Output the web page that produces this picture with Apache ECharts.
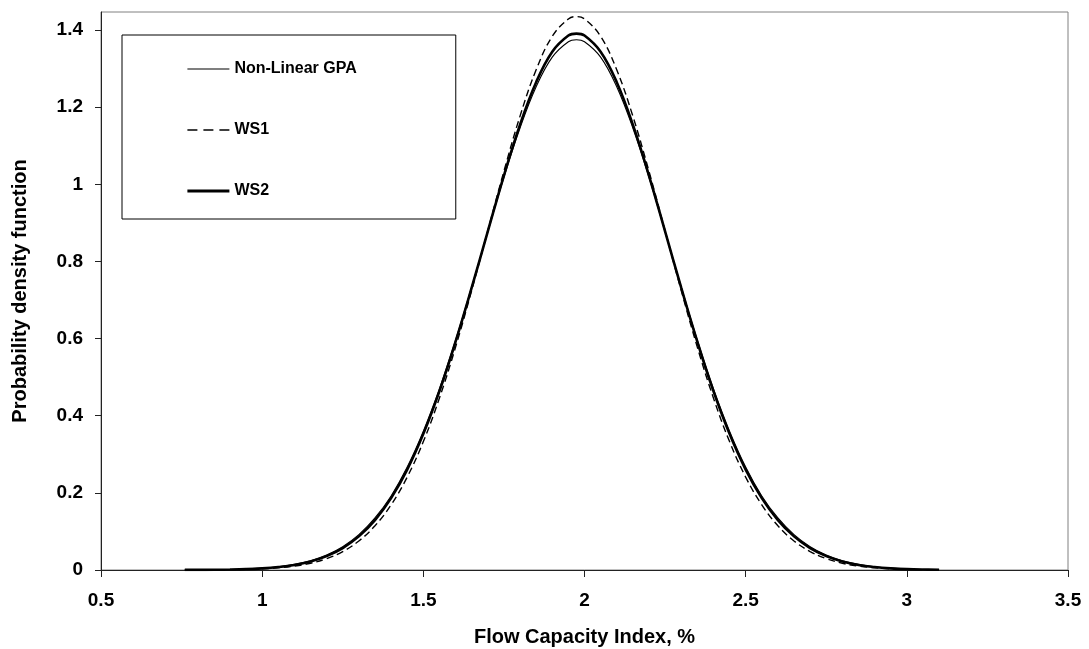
<!DOCTYPE html>
<html>
<head>
<meta charset="utf-8">
<script src="https://cdn.jsdelivr.net/npm/echarts@6/dist/echarts.min.js"></script>
<style>
  html, body { margin: 0; padding: 0; background: #fff; }
  #chart { width: 1089px; height: 649px; }
</style>
</head>
<body>
<div id="chart"></div>
<script>
// Flow capacity index sample points (%)
const xs = [0.76, 0.80, 0.85, 0.90, 0.95, 1.00, 1.05, 1.10, 1.15, 1.20, 1.25, 1.30, 1.35, 1.40,
            1.45, 1.50, 1.55, 1.60, 1.65, 1.70, 1.75, 1.80, 1.85, 1.90, 1.95, 1.975, 2.00, 2.05,
            2.10, 2.15, 2.20, 2.25, 2.30, 2.35, 2.40, 2.45, 2.50, 2.55, 2.60, 2.65, 2.70, 2.75,
            2.80, 2.85, 2.90, 2.95, 3.00, 3.05, 3.10];

// Probability density for each method
const gpa = [0.0002, 0.0004, 0.0007, 0.0014, 0.0027, 0.0048, 0.0085, 0.0145, 0.024, 0.0387, 0.0604, 0.0916, 0.135, 0.192,
             0.267, 0.360, 0.470, 0.596, 0.734, 0.877, 1.018, 1.146, 1.253, 1.330, 1.370, 1.375, 1.370, 1.330,
             1.253, 1.146, 1.018, 0.877, 0.734, 0.596, 0.470, 0.360, 0.267, 0.192, 0.135, 0.0916, 0.0604, 0.0387,
             0.024, 0.0145, 0.0085, 0.0048, 0.0027, 0.0014, 0.0007];
const ws1 = [0.0001, 0.0002, 0.0004, 0.0008, 0.0016, 0.0031, 0.0057, 0.0101, 0.0176, 0.0294, 0.0478, 0.0753, 0.1146, 0.169,
             0.241, 0.333, 0.446, 0.578, 0.725, 0.880, 1.034, 1.177, 1.297, 1.384, 1.429, 1.435, 1.429, 1.384,
             1.297, 1.177, 1.034, 0.880, 0.725, 0.578, 0.446, 0.333, 0.241, 0.169, 0.1146, 0.0753, 0.0478, 0.0294,
             0.0176, 0.0101, 0.0057, 0.0031, 0.0016, 0.0008, 0.0004];
const ws2 = [0.0002, 0.0003, 0.0006, 0.0012, 0.0023, 0.0043, 0.0077, 0.0132, 0.0222, 0.0361, 0.0570, 0.0872, 0.1294, 0.1864,
             0.2603, 0.353, 0.464, 0.592, 0.732, 0.878, 1.023, 1.155, 1.265, 1.344, 1.386, 1.391, 1.386, 1.344,
             1.265, 1.155, 1.023, 0.878, 0.732, 0.592, 0.464, 0.353, 0.2603, 0.1864, 0.1294, 0.0872, 0.0570, 0.0361,
             0.0222, 0.0132, 0.0077, 0.0043, 0.0023, 0.0012, 0.0006];

// Axis tick values
const yTicks = [0, 0.2, 0.4, 0.6, 0.8, 1, 1.2, 1.4];
const xTicks = [0.5, 1, 1.5, 2, 2.5, 3, 3.5];

const seriesNames = ['Non-Linear GPA', 'WS1', 'WS2'];

// Line look of each method on the plot
const lineStyles = [
  { color: '#000', width: 1.1 },
  { color: '#000', width: 1.4, type: [7, 4] },
  { color: '#000', width: 2.6 }
];
// Legend keys: same looks, with the longer dash of the key line
const keyStyles = [
  { color: '#000', width: 1.2 },
  { color: '#000', width: 1.5, type: [10, 6] },
  { color: '#000', width: 2.8 }
];

const FONT = '"Liberation Sans", Arial, sans-serif';
const pairs = arr => xs.map((x, i) => [x, arr[i]]);
const values = [gpa, ws1, ws2];

const chart = echarts.init(document.getElementById('chart'), null, { renderer: 'canvas' });

chart.setOption({
  animation: false,
  backgroundColor: '#ffffff',
  grid: {
    left: 101, right: 21, top: 12, bottom: 79,
    outerBoundsMode: 'none',
    containLabel: false,
    show: true, borderColor: '#808080', borderWidth: 1, backgroundColor: 'transparent'
  },
  legend: {
    orient: 'vertical',
    left: 122, top: 35,
    padding: [26, 99, 20, 64],
    itemGap: 45,
    itemWidth: 42, itemHeight: 16,
    backgroundColor: '#ffffff',
    borderColor: '#000000', borderWidth: 1,
    itemStyle: { opacity: 0 },
    textStyle: { fontFamily: FONT, fontSize: 16, fontWeight: 'bold', color: '#000' },
    data: seriesNames.map((name, i) => ({ name, lineStyle: keyStyles[i] }))
  },
  xAxis: {
    type: 'value',
    min: xTicks[0], max: xTicks[xTicks.length - 1], interval: 0.5,
    name: 'Flow Capacity Index, %',
    nameLocation: 'middle', nameGap: 57,
    nameTextStyle: { fontFamily: FONT, fontSize: 20, fontWeight: 'bold', color: '#000' },
    axisLine: { show: true, lineStyle: { color: '#222', width: 1 } },
    axisTick: { show: true, length: 7, lineStyle: { color: '#222' } },
    axisLabel: { fontFamily: FONT, fontSize: 19, fontWeight: 'bold', color: '#000', margin: 21 },
    splitLine: { show: false }
  },
  yAxis: {
    type: 'value',
    min: 0, max: 1.447,
    name: 'Probability density function',
    nameLocation: 'middle', nameGap: 71,
    nameTextStyle: { fontFamily: FONT, fontSize: 20, fontWeight: 'bold', color: '#000' },
    axisLine: { show: true, lineStyle: { color: '#222', width: 1 } },
    axisTick: { show: true, length: 6, customValues: yTicks, lineStyle: { color: '#222' } },
    axisLabel: { fontFamily: FONT, fontSize: 19, fontWeight: 'bold', color: '#000', margin: 18, customValues: yTicks },
    splitLine: { show: false }
  },
  series: seriesNames.map((name, i) => ({
    name, type: 'line', data: pairs(values[i]),
    smooth: 0.4, showSymbol: false, symbol: 'none',
    lineStyle: lineStyles[i], itemStyle: { color: '#000' }, z: 3 - i
  }))
});
</script>
</body>
</html>
